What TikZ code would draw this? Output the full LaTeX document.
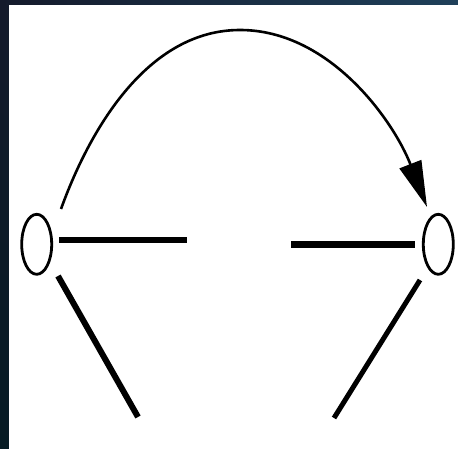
\documentclass[tikz,border=0pt]{standalone}
\usetikzlibrary{shapes.geometric,arrows.meta,shadings}
\definecolor{bgUL}{HTML}{141A2B}
\definecolor{bgUR}{HTML}{1F405A}
\definecolor{bgLL}{HTML}{061B24}
\definecolor{bgLR}{HTML}{0C2633}
\tikzset{
  ring/.style={draw=black, line width=2.8pt, ellipse, minimum width=30pt, minimum height=60pt, inner sep=0pt},
  arcline/.style={draw=black, line width=2.6pt, -{Triangle[length=46pt,width=23pt]}},
  barline/.style={draw=black, line width=6.5pt},
  legline/.style={draw=black, line width=6pt},
}
\begin{document}
\begin{tikzpicture}[x=1pt,y=-1pt]
\useasboundingbox (0,0) rectangle (458,449);
\shade[upper left=bgUL, upper right=bgUR, lower left=bgLL, lower right=bgLR] (0,0) rectangle (458,449);
\fill[white] (9,5) rectangle (458,449);
% ellipses
\node[ring] (L) at (36.7,244.3) {};
\node[ring] (R) at (438.3,244.3) {};
% free ends
\coordinate (a0) at (61,209);
\coordinate (top) at (240,30);
\coordinate (a1) at (427,207);
\coordinate (h1a) at (59.3,240);
\coordinate (h1b) at (186.7,240);
\coordinate (h2a) at (291,244.3);
\coordinate (h2b) at (415,244.3);
\coordinate (d1a) at (58,276);
\coordinate (d1b) at (138,417);
\coordinate (d2a) at (420,280);
\coordinate (d2b) at (334,418);
% arc with arrow
\draw[arcline] (a0) .. controls (91.6,124.4) and (150,30) .. (top)
  .. controls (330,30) and (393.7,121.3) .. (a1);
% bars
\draw[barline] (h1a) -- (h1b);
\draw[barline] (h2a) -- (h2b);
% legs
\draw[legline] (d1a) -- (d1b);
\draw[legline, line width=5pt] (d2a) -- (d2b);
\end{tikzpicture}
\end{document}
